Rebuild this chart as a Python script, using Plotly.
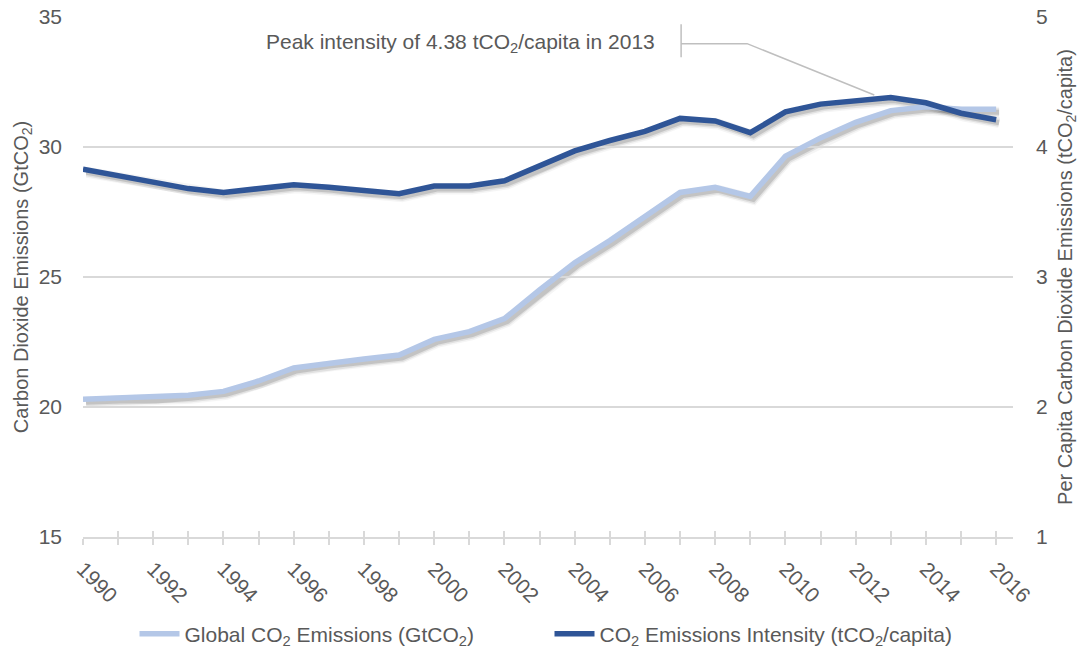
import plotly.graph_objects as go

# ---- data -------------------------------------------------------------
years = list(range(1990, 2017))

# Global CO2 emissions, GtCO2
global_emissions = [20.3, 20.35, 20.35, 20.45, 20.6, 21.0, 21.5, 21.7, 21.85, 22.0,
                    22.6, 22.9, 23.4, 24.5, 25.55, 26.4, 27.3, 28.25, 28.45, 28.1,
                    29.65, 30.35, 30.95, 31.4, 31.55, 31.45, 31.45]

# CO2 emissions intensity, tCO2 per capita
intensity = [3.83, 3.78, 3.73, 3.68, 3.65, 3.68, 3.71, 3.69, 3.66, 3.64,
             3.70, 3.70, 3.74, 3.85, 3.97, 4.05, 4.12, 4.22, 4.20, 4.11,
             4.27, 4.33, 4.36, 4.38, 4.34, 4.26, 4.21]

left_ticks = [15, 20, 25, 30, 35]
right_ticks = [1, 2, 3, 4, 5]
year_labels = [str(y) if y % 2 == 0 else "" for y in years]

peak_year = 2013
peak_value = 4.38

# ---- styling ----------------------------------------------------------
FONT = "Liberation Sans, Arial, sans-serif"
TEXT = "#595959"
GRID = "#d9d9d9"
LIGHT = "#b4c7e7"
DARK = "#2f5597"
FS = 21
LW = 5.5

X_RANGE = [1990, 2016.48]
Y_RANGE = [15, 35]
Y2_RANGE = [1, 5]

# the shadow subplot (x, y, y2) sits a few pixels right of / below the
# visible one (x3, y3, y4); the visible subplot is drawn on top of it
PLOT_W, PLOT_H = 933, 523
DX, DY = 3, 3

fig = go.Figure()

# soft drop shadows
for w, a in [(11, 0.04), (8, 0.08), (5, 0.13)]:
    fig.add_trace(go.Scatter(x=years, y=global_emissions, mode="lines",
                             line=dict(color=f"rgba(0,0,0,{a})", width=w),
                             xaxis="x", yaxis="y", showlegend=False,
                             hoverinfo="skip"))
    fig.add_trace(go.Scatter(x=years, y=intensity, mode="lines",
                             line=dict(color=f"rgba(0,0,0,{a})", width=w),
                             xaxis="x", yaxis="y2", showlegend=False,
                             hoverinfo="skip"))

# empty trace that carries the upper half of the x-axis tick marks
fig.add_trace(go.Scatter(x=[], y=[], xaxis="x4", yaxis="y3", showlegend=False,
                         hoverinfo="skip"))

fig.add_trace(go.Scatter(x=years, y=global_emissions, mode="lines",
                         name="Global CO<sub>2</sub> Emissions (GtCO<sub>2</sub>)",
                         line=dict(color=LIGHT, width=LW),
                         xaxis="x3", yaxis="y3"))
fig.add_trace(go.Scatter(x=years, y=intensity, mode="lines",
                         name="CO<sub>2</sub> Emissions Intensity (tCO<sub>2</sub>/capita)",
                         line=dict(color=DARK, width=LW),
                         xaxis="x3", yaxis="y4"))

x_main = [0, (PLOT_W - DX) / PLOT_W]
x_shadow = [DX / PLOT_W, 1]
y_main = [DY / PLOT_H, 1]
y_shadow = [0, (PLOT_H - DY) / PLOT_H]

tick_font = dict(size=FS, color=TEXT)

fig.update_layout(
    width=1082, height=652,
    margin=dict(l=83, r=1082 - 83 - PLOT_W, t=17, b=652 - 17 - PLOT_H,
                autoexpand=False),
    paper_bgcolor="white", plot_bgcolor="rgba(0,0,0,0)",
    font=dict(family=FONT, size=FS, color=TEXT),
    showlegend=True,
    legend=dict(orientation="h", x=0.5, xanchor="center", y=-0.18,
                yanchor="middle", font=dict(size=FS, color=TEXT),
                itemwidth=40, entrywidth=360, traceorder="normal"),
    # shadow axes
    xaxis=dict(domain=x_shadow, range=X_RANGE, visible=False, anchor="y",
               automargin=False),
    yaxis=dict(domain=y_shadow, range=Y_RANGE, visible=False, anchor="x",
               automargin=False),
    yaxis2=dict(overlaying="y", range=Y2_RANGE, visible=False, anchor="x",
                automargin=False),
    # visible axes
    xaxis3=dict(domain=x_main, range=X_RANGE, tickmode="array",
                tickvals=years, ticktext=year_labels, tickangle=45,
                ticks="outside", ticklen=6, tickcolor=GRID, tickwidth=1.5,
                showline=True, linecolor=GRID, linewidth=1.5,
                showgrid=False, zeroline=False, anchor="y3",
                automargin=False, ticklabelstandoff=4, tickfont=tick_font),
    xaxis4=dict(overlaying="x3", range=X_RANGE, tickmode="array",
                tickvals=years, showticklabels=False,
                ticks="inside", ticklen=6, tickcolor=GRID, tickwidth=1.5,
                showline=False, showgrid=False, zeroline=False, anchor="y3",
                automargin=False),
    yaxis3=dict(domain=y_main, range=Y_RANGE, tickvals=left_ticks,
                showgrid=True, gridcolor=GRID, gridwidth=1.5,
                zeroline=False, showline=False, ticks="", anchor="x3",
                automargin=False, ticklabelstandoff=20, tickfont=tick_font,
                title=dict(text="Carbon Dioxide Emissions (GtCO<sub>2</sub>)",
                           font=dict(size=20, color=TEXT), standoff=4)),
    yaxis4=dict(overlaying="y3", side="right", range=Y2_RANGE, anchor="x3",
                tickvals=right_ticks, showgrid=False, zeroline=False,
                showline=False, ticks="", ticklabelstandoff=22,
                automargin=False, tickfont=tick_font,
                title=dict(text="Per Capita Carbon Dioxide Emissions (tCO<sub>2</sub>/capita)",
                           font=dict(size=20, color=TEXT), standoff=10)),
)

# callout for the peak intensity year
fig.add_annotation(x=2006.35, y=4.80, xref="x3", yref="y4",
                   text=f"Peak intensity of {peak_value} tCO<sub>2</sub>/capita in {peak_year}",
                   showarrow=False, xanchor="right", yanchor="middle",
                   font=dict(size=FS, color=TEXT))
LEADER = dict(color="#bfbfbf", width=1.5)
fig.add_shape(type="line", xref="x3", yref="y4", x0=2007.03, x1=2007.03,
              y0=4.945, y1=4.69, line=LEADER)
fig.add_shape(type="path", xref="x3", yref="y4",
              path="M 2007.03,4.795 L 2008.91,4.795 L 2012.53,4.40",
              line=LEADER)

fig.write_html("out.html")
